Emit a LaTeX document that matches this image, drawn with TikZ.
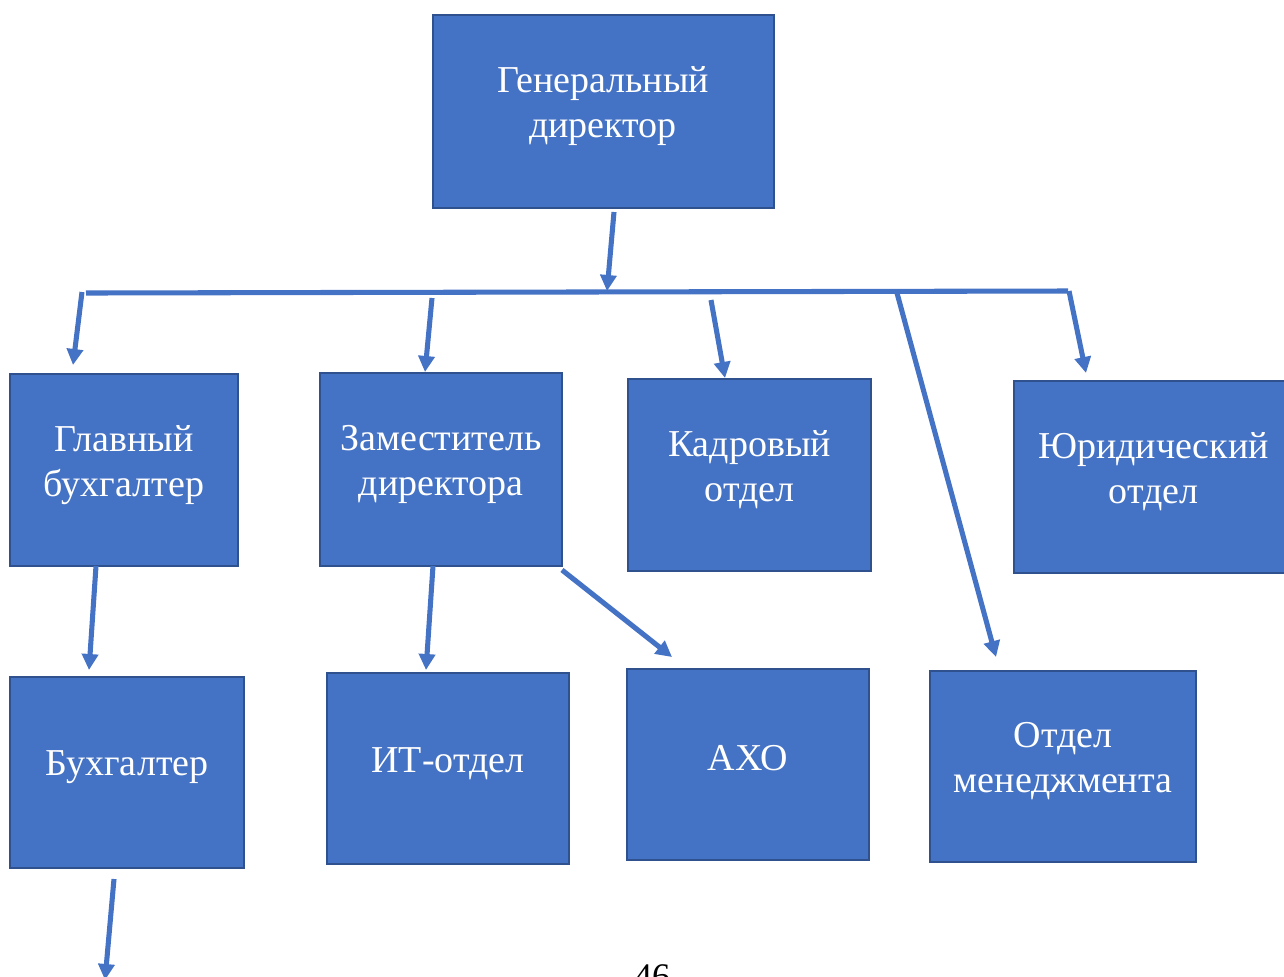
\documentclass[tikz,border=0pt]{standalone}
\usepackage{fontspec}
\setmainfont{Liberation Serif}
\usetikzlibrary{arrows.meta}
\definecolor{boxfill}{HTML}{4472C4}
\definecolor{boxline}{HTML}{2F528F}
\definecolor{conn}{HTML}{4472C4}
\tikzset{
  orgbox/.style={draw=boxline, line width=1.5pt, fill=boxfill, inner sep=0pt},
  orgtext/.style={text=white, align=center, inner sep=0pt, font=\fontsize{28.5pt}{33.75pt}\selectfont},
  conn/.style={draw=conn, line width=3.8pt, line cap=butt},
  arr/.style={conn, -{Triangle[width=12pt,length=12pt]}}
}
\begin{document}
\begin{tikzpicture}[x=0.75pt,y=-0.75pt]
\useasboundingbox (0,0) rectangle (1284,976);
\clip (0,0) rectangle (1284,976);
% boxes
\node[orgbox, minimum width=341*0.75pt, minimum height=193*0.75pt] (gd) at (603.5,111.5) {};
\node[orgbox, minimum width=228*0.75pt, minimum height=192*0.75pt] (gb) at (124,470) {};
\node[orgbox, minimum width=242*0.75pt, minimum height=193*0.75pt] (zd) at (441,469.5) {};
\node[orgbox, minimum width=243*0.75pt, minimum height=192*0.75pt] (ko) at (749.5,475) {};
\node[orgbox, minimum width=279*0.75pt, minimum height=192*0.75pt] (yo) at (1153.5,477) {};
\node[orgbox, minimum width=234*0.75pt, minimum height=191*0.75pt] (bu) at (127,772.5) {};
\node[orgbox, minimum width=242*0.75pt, minimum height=191*0.75pt] (it) at (448,768.5) {};
\node[orgbox, minimum width=242*0.75pt, minimum height=191*0.75pt] (ax) at (748,764.5) {};
\node[orgbox, minimum width=266*0.75pt, minimum height=191*0.75pt] (om) at (1063,766.5) {};
% texts
\node[orgtext] (gdt) at (603,106) {Генеральный\\директор};
\node[orgtext] (gbt) at (124,465) {Главный\\бухгалтер};
\node[orgtext] (zdt) at (441,464.5) {Заместитель\\директора};
\node[orgtext] (kot) at (749.5,469.5) {Кадровый\\отдел};
\node[orgtext] (yot) at (1153.5,471.5) {Юридический\\отдел};
\node[orgtext] (but) at (127,767) {Бухгалтер};
\node[orgtext] (itt) at (448,764) {ИТ-отдел};
\node[orgtext] (axt) at (748,758) {АХО};
\node[orgtext] (omt) at (1063,761) {Отдел\\менеджмента};
% page number (cut off by the page edge, as in the reference)
\node[anchor=base, inner sep=0pt, font=\fontsize{27pt}{30pt}\selectfont] (pg) at (652,988) {46};
% connector coordinates
\coordinate (barL) at (86,293);
\coordinate (barR) at (1068,291);
\coordinate (gdS) at (614,212);
\coordinate (barM) at (607,291);
\coordinate (s1) at (82,292);   \coordinate (e1) at (73,365);
\coordinate (s2) at (432,298);  \coordinate (e2) at (425,372);
\coordinate (s3) at (711,300);  \coordinate (e3) at (725,378);
\coordinate (s4) at (897,293);  \coordinate (e4) at (996,657);
\coordinate (s5) at (1069,291); \coordinate (e5) at (1086,373);
\coordinate (s6) at (96,566);   \coordinate (e6) at (89,670);
\coordinate (s7) at (433,566);  \coordinate (e7) at (426,670);
\coordinate (s8) at (562,570);  \coordinate (e8) at (672,657);
\coordinate (s9) at (114,879);  \coordinate (e9) at (105,980);
% connectors
\draw[conn] (barL) -- (barR);
\draw[arr] (gdS) -- (barM);
\draw[arr] (s1) -- (e1);
\draw[arr] (s2) -- (e2);
\draw[arr] (s3) -- (e3);
\draw[arr] (s4) -- (e4);
\draw[arr] (s5) -- (e5);
\draw[arr] (s6) -- (e6);
\draw[arr] (s7) -- (e7);
\draw[arr] (s8) -- (e8);
\draw[arr] (s9) -- (e9);
\end{tikzpicture}
\end{document}
